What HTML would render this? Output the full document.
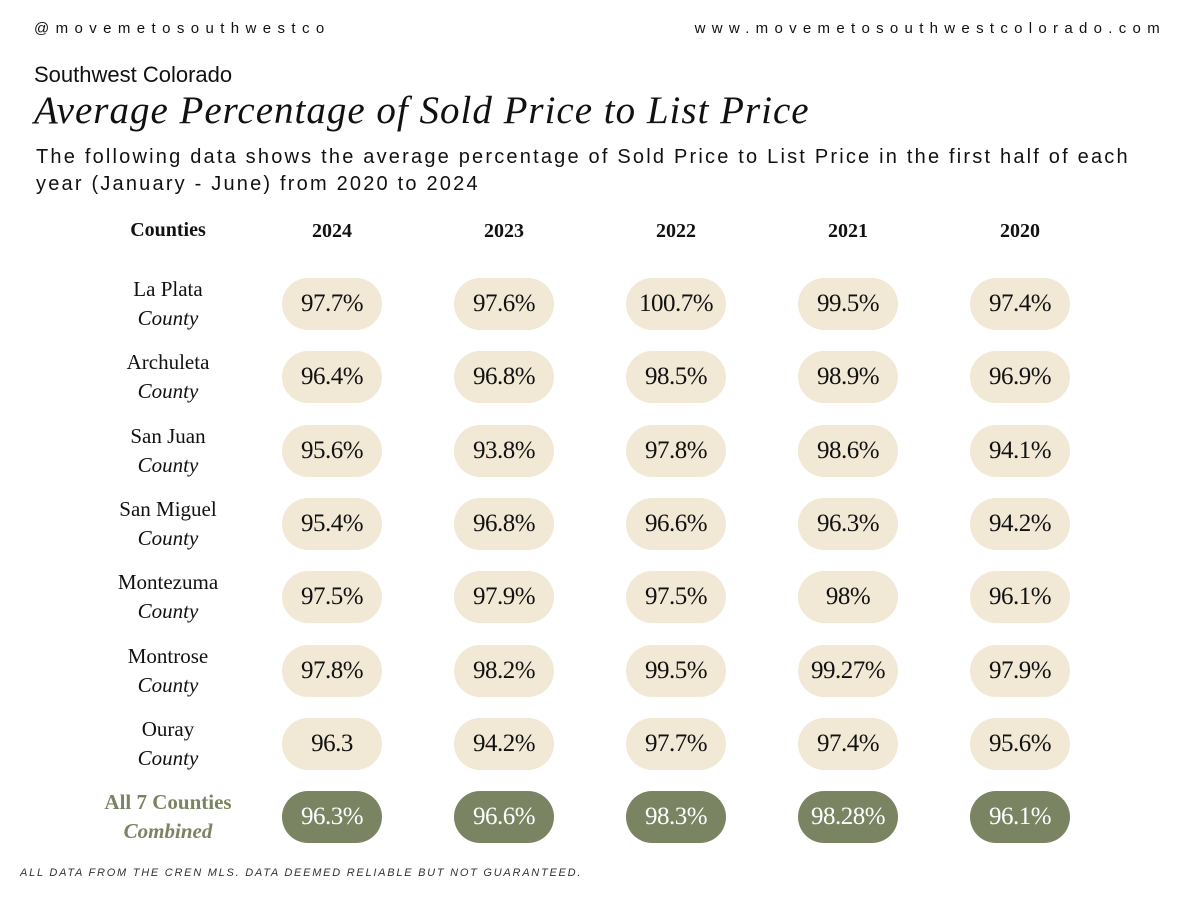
<!DOCTYPE html>
<html><head><meta charset="utf-8">
<style>
body{margin:0;background:#fff;}
#page{position:relative;width:1200px;height:900px;overflow:hidden;background:#fff;color:#111;}
.abs{position:absolute;white-space:nowrap;}
.sans{font-family:"Liberation Sans","DejaVu Sans",sans-serif;}
.serif{font-family:"Liberation Serif","DejaVu Serif",serif;}
.pill{position:absolute;width:100px;height:52px;border-radius:26px;display:flex;align-items:center;justify-content:center;font-family:"Liberation Serif",serif;font-size:25px;letter-spacing:-0.5px;}
.lbl{position:absolute;width:150px;text-align:center;font-family:"Liberation Serif",serif;font-size:21px;line-height:29px;}
.hdr{position:absolute;width:120px;text-align:center;font-family:"Liberation Serif",serif;font-weight:bold;font-size:20px;}
</style></head><body>
<div id="page">
<div class="abs sans" style="left:34px;top:20px;font-size:15px;letter-spacing:6.4px;">@movemetosouthwestco</div>
<div class="abs sans" style="right:34px;top:20px;font-size:15px;letter-spacing:6.3px;">www.movemetosouthwestcolorado.com</div>
<div class="abs sans" style="left:34px;top:62px;font-size:22px;">Southwest Colorado</div>
<div class="abs serif" style="left:34px;top:88px;font-size:39px;font-style:italic;letter-spacing:1px;">Average Percentage of Sold Price to List Price</div>
<div class="abs sans" style="left:36px;top:144px;font-size:20px;line-height:27px;letter-spacing:2.2px;white-space:normal;width:1125px;">The following data shows the average percentage of Sold Price to List Price in the first half of each year (January - June) from 2020 to 2024</div>
<div class="hdr" style="left:108px;top:219px;">Counties</div>
<div class="abs sans" style="left:20px;top:867px;font-size:11px;font-style:italic;letter-spacing:1.75px;color:#333;">ALL DATA FROM THE CREN MLS. DATA DEEMED RELIABLE BUT NOT GUARANTEED.</div>
</div>
<script>
const years=["2024","2023","2022","2021","2020"];
const counties=["La Plata","Archuleta","San Juan","San Miguel","Montezuma","Montrose","Ouray"];
const v2024=["97.7%","96.4%","95.6%","95.4%","97.5%","97.8%","96.3"];
const v2023=["97.6%","96.8%","93.8%","96.8%","97.9%","98.2%","94.2%"];
const v2022=["100.7%","98.5%","97.8%","96.6%","97.5%","99.5%","97.7%"];
const v2021=["99.5%","98.9%","98.6%","96.3%","98%","99.27%","97.4%"];
const v2020=["97.4%","96.9%","94.1%","94.2%","96.1%","97.9%","95.6%"];
const combined=["96.3%","96.6%","98.3%","98.28%","96.1%"];
const series=[v2024,v2023,v2022,v2021,v2020];
const page=document.getElementById('page');
const colX=i=>332+i*172;
const rowY=j=>304+j*73.3;
years.forEach((y,i)=>{
  const h=document.createElement('div');h.className='hdr';
  h.style.left=(colX(i)-60)+'px';h.style.top='220px';h.textContent=y;
  
  
  page.appendChild(h);
});
counties.forEach((c,j)=>{
  const l=document.createElement('div');l.className='lbl';
  l.style.left='93px';l.style.top=(rowY(j)-29)+'px';
  l.innerHTML=c+'<br><i>County</i>';
  
  
  page.appendChild(l);
  series.forEach((s,i)=>{
    const p=document.createElement('div');p.className='pill';
    p.style.left=(colX(i)-50)+'px';p.style.top=(rowY(j)-26)+'px';
    p.style.background='#f1e9d6';p.textContent=s[j];
    
    
    page.appendChild(p);
  });
});
const jc=counties.length;
const cl=document.createElement('div');cl.className='lbl';
cl.style.left='93px';cl.style.top=(rowY(jc)-29)+'px';cl.style.color='#7b8462';cl.style.fontWeight='bold';
cl.innerHTML='All 7 Counties<br><i>Combined</i>';


page.appendChild(cl);
combined.forEach((v,i)=>{
  const p=document.createElement('div');p.className='pill';
  p.style.left=(colX(i)-50)+'px';p.style.top=(rowY(jc)-26)+'px';
  p.style.background='#7b8462';p.style.color='#fff';p.textContent=v;
  
  
  page.appendChild(p);
});
</script>
</body></html>
